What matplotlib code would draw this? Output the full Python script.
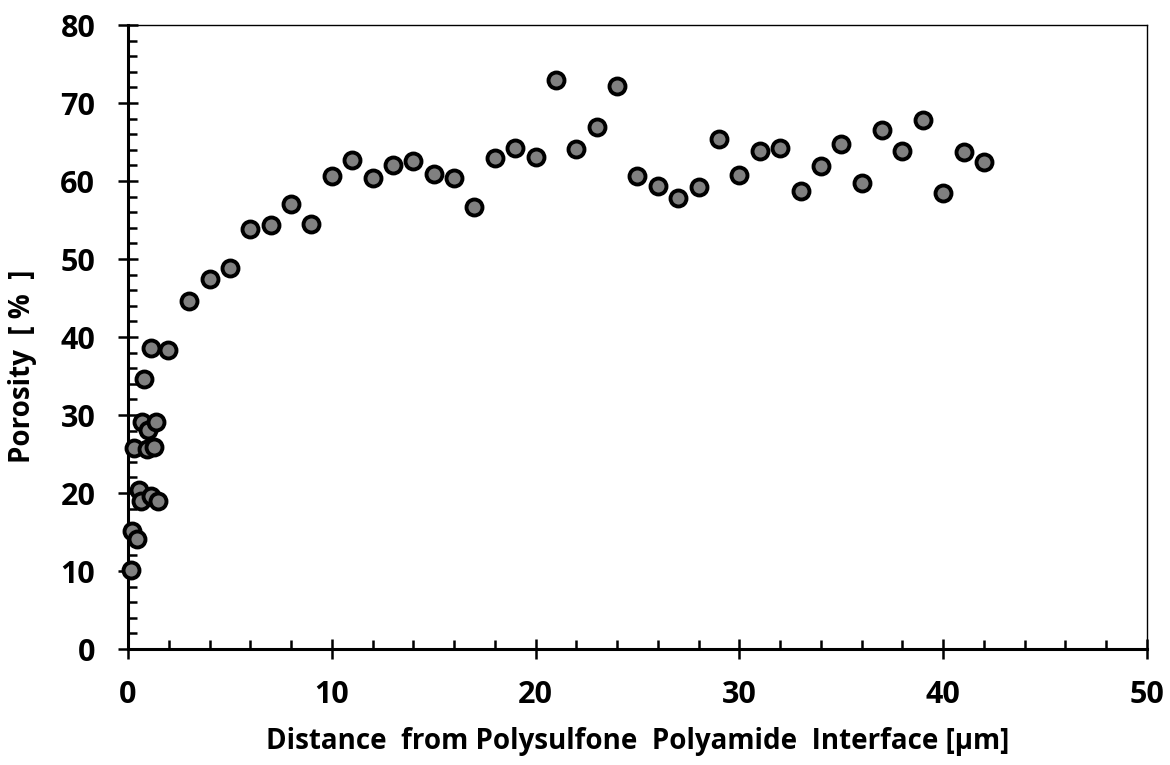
import matplotlib.pyplot as plt
from matplotlib.ticker import MultipleLocator

# distance from interface [um] and porosity [%]
distance = [0.13, 0.21, 0.43, 0.29, 0.54, 0.62, 1.11, 1.49, 0.92, 1.28, 0.70, 0.96, 1.36, 0.80, 1.11, 1.98,
            3, 4, 5, 6, 7, 8, 9, 10, 11, 12, 13, 14, 15, 16, 17, 18, 19, 20,
            21, 22, 23, 24, 25, 26, 27, 28, 29, 30, 31, 32, 33, 34, 35, 36, 37, 38, 39, 40, 41, 42]
porosity = [10.1, 15.1, 14.1, 25.8, 20.4, 19.0, 19.6, 19.0, 25.7, 25.9, 29.1, 28.1, 29.1, 34.6, 38.6, 38.3,
            44.6, 47.5, 48.9, 53.8, 54.4, 57.1, 54.5, 60.6, 62.7, 60.4, 62.1, 62.6, 60.9, 60.4, 56.7, 62.9, 64.2, 63.1,
            73.0, 64.1, 66.9, 72.2, 60.7, 59.3, 57.8, 59.2, 65.4, 60.8, 63.8, 64.2, 58.7, 61.9, 64.7, 59.8, 66.6, 63.8, 67.8, 58.5, 63.7, 62.5]

plt.rcParams['font.family'] = ['Open Sans', 'DejaVu Sans']
plt.rcParams['font.weight'] = 'bold'

fig = plt.figure(figsize=(11.7, 7.65), dpi=100)
ax = fig.add_axes([0.1094, 0.1516, 0.8709, 0.8157])

ax.plot(distance, porosity, 'o', markersize=11.5, markerfacecolor='#808080',
        markeredgecolor='black', markeredgewidth=2.8, clip_on=False, zorder=3)

ax.set_xlim(0, 50)
ax.set_ylim(0, 80)
ax.xaxis.set_major_locator(MultipleLocator(10))
ax.xaxis.set_minor_locator(MultipleLocator(2))
ax.yaxis.set_major_locator(MultipleLocator(10))
ax.yaxis.set_minor_locator(MultipleLocator(2))

ax.spines['left'].set_linewidth(2.2)
ax.spines['bottom'].set_linewidth(2.2)
ax.spines['top'].set_linewidth(1)
ax.spines['right'].set_linewidth(1)

ax.tick_params(which='major', direction='inout', length=15, width=1.8, labelsize=22)
ax.tick_params(axis='x', which='major', pad=15)
ax.tick_params(axis='y', which='major', pad=16)
ax.tick_params(which='minor', direction='in', length=6.5, width=1.8)
ax.tick_params(top=False, right=False, which='both')
for lab in ax.get_xticklabels() + ax.get_yticklabels():
    lab.set_fontweight('bold')

ax.set_xlabel('Distance  from Polysulfone  Polyamide  Interface [\u03bcm]', fontsize=20,
              fontweight='bold', labelpad=12)
ax.set_ylabel('Porosity  [ %  ]', fontsize=20, fontweight='bold')
ax.yaxis.set_label_coords(-0.089, 0.453)

fig.savefig('out.png', dpi=100)
